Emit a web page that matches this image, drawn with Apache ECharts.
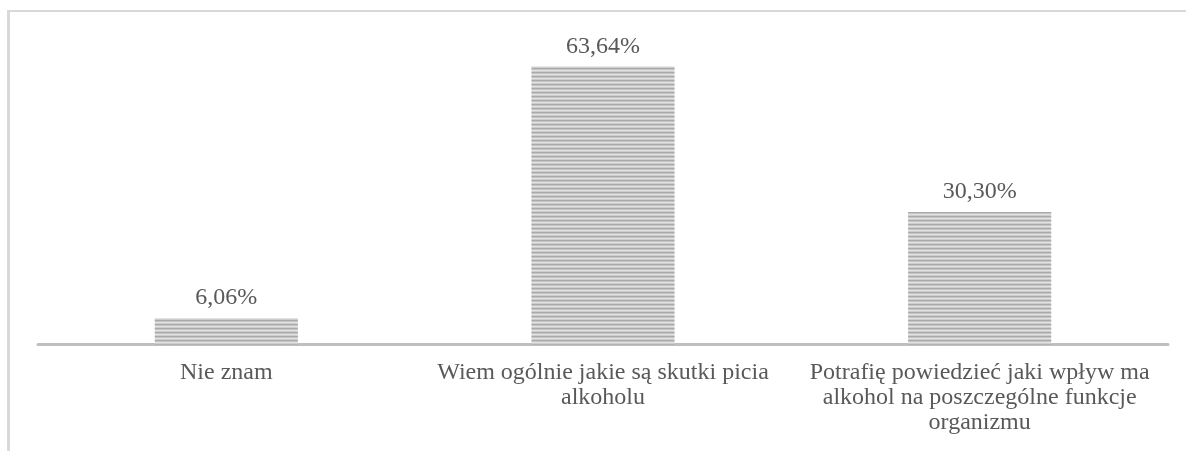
<!DOCTYPE html>
<html>
<head>
<meta charset="utf-8">
<script src="https://cdn.jsdelivr.net/npm/echarts@6/dist/echarts.min.js"></script>
<style>
  html, body { margin: 0; padding: 0; background: #fff; }
  #chart { width: 1186px; height: 451px; }
</style>
</head>
<body>
<div id="chart"></div>
<script>
const categories = [
  'Nie znam',
  'Wiem ogólnie jakie są skutki picia\nalkoholu',
  'Potrafię powiedzieć jaki wpływ ma\nalkohol na poszczególne funkcje\norganizmu'
]
const values = [6.06, 63.64, 30.30]

// horizontal stripe fill like the original
const stripe = document.createElement('canvas')
stripe.width = 4
stripe.height = 4
const ctx = stripe.getContext('2d')
const rows = ['#a9a9a9', '#c4c4c4', '#e2e2e2', '#cdcdcd']
rows.forEach((c, i) => {
  ctx.fillStyle = c
  ctx.fillRect(0, i, 4, 1)
})

const textColor = '#595959'
const font = 'Liberation Serif'

const chart = echarts.init(document.getElementById('chart'))
chart.setOption({
  animation: false,
  grid: { left: 38, right: 18, top: 38.5, bottom: 106.5 },
  graphic: [
    { type: 'rect', shape: { x: 7, y: 10, width: 1179, height: 2 }, style: { fill: '#d9d9d9' } },
    { type: 'rect', shape: { x: 7, y: 10, width: 3, height: 441 }, style: { fill: '#d9d9d9' } }
  ],
  xAxis: {
    type: 'category',
    data: categories,
    axisTick: { show: false },
    axisLine: { lineStyle: { color: '#bfbfbf', width: 3 } },
    axisLabel: {
      color: textColor,
      fontFamily: font,
      fontSize: 24,
      lineHeight: 25,
      margin: 16,
      interval: 0
    }
  },
  yAxis: {
    type: 'value',
    min: 0,
    max: 70,
    show: false,
    splitLine: { show: false }
  },
  series: [{
    type: 'bar',
    data: values,
    barWidth: '38%',
    itemStyle: { color: { image: stripe, repeat: 'repeat' } },
    label: {
      show: true,
      position: 'top',
      distance: 8,
      color: textColor,
      fontFamily: font,
      fontSize: 24,
      formatter: p => p.value.toFixed(2).replace('.', ',') + '%'
    }
  }]
})
</script>
</body>
</html>
